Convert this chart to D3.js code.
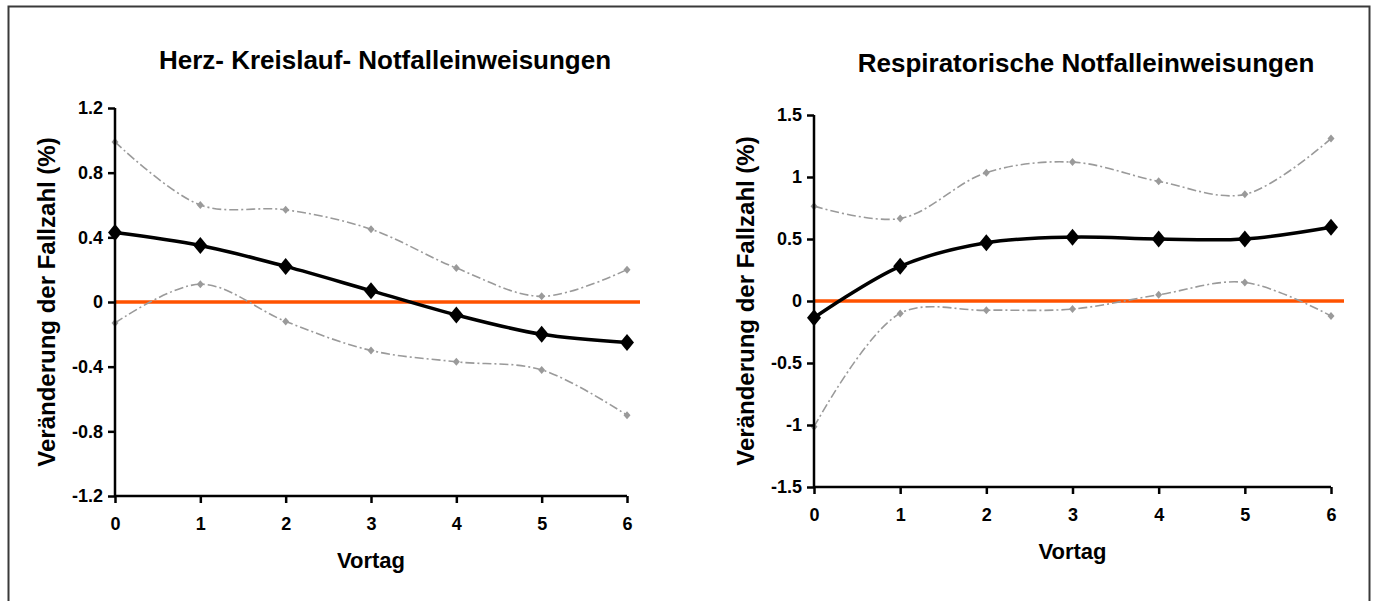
<!DOCTYPE html>
<html>
<head>
<meta charset="utf-8">
<script src="https://cdn.jsdelivr.net/npm/d3@7"></script>
<style>
  body { margin: 0; background: #fff; }
  text { font-family: "Liberation Sans", Arial, sans-serif; font-weight: bold; fill: #000; }
  .tick text { font-size: 18px; }
</style>
</head>
<body>
<svg id="chart" width="1375" height="601"></svg>
<script>
// days before (Vortag)
var days = [0, 1, 2, 3, 4, 5, 6];

// Herz- Kreislauf- Notfalleinweisungen
var herzMean  = [0.43, 0.35, 0.22, 0.07, -0.08, -0.20, -0.25];
var herzUpper = [0.99, 0.60, 0.57, 0.45, 0.21, 0.035, 0.20];
var herzLower = [-0.13, 0.11, -0.12, -0.30, -0.37, -0.42, -0.70];
var herzTicks = [-1.2, -0.8, -0.4, 0, 0.4, 0.8, 1.2];

// Respiratorische Notfalleinweisungen
var respMean  = [-0.135, 0.28, 0.47, 0.515, 0.50, 0.50, 0.595];
var respUpper = [0.765, 0.665, 1.035, 1.12, 0.965, 0.86, 1.31];
var respLower = [-1.015, -0.10, -0.075, -0.065, 0.05, 0.15, -0.12];
var respTicks = [-1.5, -1, -0.5, 0, 0.5, 1, 1.5];

var svg = d3.select("#chart");

// outer frame (open at the bottom)
svg.append("rect")
    .attr("x", 8.5).attr("y", 6.5)
    .attr("width", 1361).attr("height", 700)
    .attr("fill", "none")
    .attr("stroke", "#3a3a3a")
    .attr("stroke-width", 2);

function diamondPath(w, h) {
    return "M0," + (-h / 2) + "L" + (w / 2) + ",0L0," + (h / 2) + "L" + (-w / 2) + ",0Z";
}

function drawPanel(opts) {
    var g = svg.append("g");

    var x = d3.scaleLinear().domain([0, 6]).range([opts.left, opts.right]);
    var y = d3.scaleLinear().domain([opts.ticks[0], opts.ticks[opts.ticks.length - 1]])
        .range([opts.bottom, opts.top]);

    // title
    g.append("text")
        .attr("x", opts.titleX).attr("y", opts.titleY)
        .attr("text-anchor", "middle")
        .style("font-size", "26px")
        .text(opts.title);

    // zero line
    g.append("line")
        .attr("x1", x(0)).attr("x2", x(6) + 13)
        .attr("y1", y(0)).attr("y2", y(0))
        .attr("stroke", "#ff5200")
        .attr("stroke-width", 3.5);

    var line = d3.line()
        .x(function (d, i) { return x(days[i]); })
        .y(function (d) { return y(d); })
        .curve(d3.curveCatmullRom.alpha(0.5));

    [opts.upper, opts.lower].forEach(function (band) {
        g.append("path")
            .attr("d", line(band))
            .attr("fill", "none")
            .attr("stroke", "#9a9a9a")
            .attr("stroke-width", 1.6)
            .attr("stroke-dasharray", "9,3,2,3");
        g.selectAll(null).data(band).enter().append("path")
            .attr("d", diamondPath(7, 8))
            .attr("transform", function (d, i) { return "translate(" + x(days[i]) + "," + y(d) + ")"; })
            .attr("fill", "#9a9a9a");
    });

    g.append("path")
        .attr("d", line(opts.mean))
        .attr("fill", "none")
        .attr("stroke", "#000")
        .attr("stroke-width", 3.5);
    g.selectAll(null).data(opts.mean).enter().append("path")
        .attr("d", diamondPath(14, 17))
        .attr("transform", function (d, i) { return "translate(" + x(days[i]) + "," + y(d) + ")"; })
        .attr("fill", "#000");

    // axes
    var yAxis = d3.axisLeft(y).tickValues(opts.ticks).tickSize(7).tickPadding(5)
        .tickFormat(function (d) { return String(d); });
    var ya = g.append("g").attr("transform", "translate(" + x(0) + ",0)").call(yAxis);

    var xAxis = d3.axisBottom(x).tickValues(days).tickSize(7).tickPadding(14)
        .tickFormat(d3.format("d"));
    var xa = g.append("g").attr("transform", "translate(0," + y(opts.ticks[0]) + ")").call(xAxis);

    [ya, xa].forEach(function (a) {
        a.attr("font-size", null).attr("font-family", null);
        a.select(".domain").attr("stroke", "#000").attr("stroke-width", 2.5);
        a.selectAll(".tick line").attr("stroke", "#000").attr("stroke-width", 2.5);
    });
    xa.select(".domain").attr("d", "M" + x(0) + ",0H" + x(6));
    ya.select(".domain").attr("d", "M0," + y(opts.ticks[opts.ticks.length - 1]) + "V" + y(opts.ticks[0]));

    // axis titles
    g.append("text")
        .attr("x", (x(0) + x(6)) / 2).attr("y", y(opts.ticks[0]) + 72)
        .attr("text-anchor", "middle")
        .style("font-size", "22px")
        .text("Vortag");

    g.append("text")
        .attr("transform", "translate(" + (x(0) - 60) + "," + ((opts.top + opts.bottom) / 2) + ") rotate(-90)")
        .attr("text-anchor", "middle")
        .style("font-size", "24px")
        .text("Veränderung der Fallzahl (%)");
}

drawPanel({
    title: "Herz- Kreislauf- Notfalleinweisungen",
    titleX: 385, titleY: 69,
    left: 115, right: 627, top: 108, bottom: 496,
    ticks: herzTicks, mean: herzMean, upper: herzUpper, lower: herzLower
});

drawPanel({
    title: "Respiratorische Notfalleinweisungen",
    titleX: 1086, titleY: 72,
    left: 814, right: 1331, top: 115, bottom: 487,
    ticks: respTicks, mean: respMean, upper: respUpper, lower: respLower
});
</script>
</body>
</html>
